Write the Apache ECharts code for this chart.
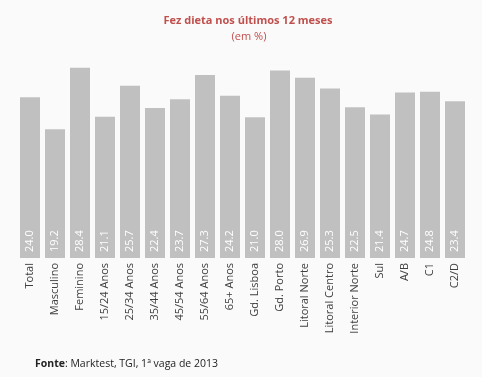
<!DOCTYPE html>
<html>
<head>
<meta charset="utf-8">
<script src="https://cdn.jsdelivr.net/npm/echarts@6/dist/echarts.min.js"></script>
<style>
  html, body { margin: 0; padding: 0; background: #fafafa; }
  #chart { width: 482px; height: 377px; }
</style>
</head>
<body>
<div id="chart"></div>
<script>
const categories = ['Total', 'Masculino', 'Feminino', '15/24 Anos', '25/34 Anos', '35/44 Anos',
  '45/54 Anos', '55/64 Anos', '65+ Anos', 'Gd. Lisboa', 'Gd. Porto', 'Litoral Norte',
  'Litoral Centro', 'Interior Norte', 'Sul', 'A/B', 'C1', 'C2/D'];
const values = [24.0, 19.2, 28.4, 21.1, 25.7, 22.4, 23.7, 27.3, 24.2, 21.0, 28.0, 26.9,
  25.3, 22.5, 21.4, 24.7, 24.8, 23.4];

const TITLE_COLOR = '#c0504d';
const BAR_COLOR = '#c0c0c0';
const LABEL_COLOR = '#404040';

const chart = echarts.init(document.getElementById('chart'));

chart.setOption({
  backgroundColor: '#fafafa',
  animation: false,
  title: [
    {
      text: 'Fez dieta nos últimos 12 meses',
      left: 243,
      top: 10,
      textAlign: 'center',
      textStyle: { color: TITLE_COLOR, fontSize: 11, fontWeight: 'bold', fontFamily: 'Open Sans' }
    },
    {
      text: '(em %)',
      left: 244,
      top: 26,
      textAlign: 'center',
      textStyle: { color: TITLE_COLOR, fontSize: 11, fontWeight: 'normal', fontFamily: 'Open Sans' }
    },
    {
      text: '{b|Fonte}: Marktest, TGI, 1ª vaga de 2013',
      left: 30,
      top: 354,
      textStyle: {
        color: '#222',
        fontSize: 10.5,
        fontFamily: 'Open Sans',
        fontWeight: 'normal',
        rich: { b: { fontWeight: 'bold', fontSize: 10.5, fontFamily: 'Open Sans', color: '#222' } }
      }
    }
  ],
  grid: { left: 17.5, right: 14.5, top: 57, bottom: 119 },
  xAxis: {
    type: 'category',
    data: categories,
    axisLine: { show: false },
    axisTick: { show: false },
    axisLabel: {
      rotate: 90,
      interval: 0,
      margin: 5,
      color: LABEL_COLOR,
      fontSize: 11,
      fontFamily: 'Open Sans'
    }
  },
  yAxis: {
    type: 'value',
    min: 0,
    max: 30,
    show: false
  },
  series: [
    {
      type: 'bar',
      data: values,
      barCategoryGap: '20%',
      itemStyle: { color: BAR_COLOR },
      label: {
        show: true,
        position: 'insideBottom',
        rotate: 90,
        align: 'left',
        verticalAlign: 'middle',
        distance: 6,
        color: '#ffffff',
        fontSize: 11,
        fontFamily: 'Open Sans',
        formatter: (p) => p.value.toFixed(1)
      }
    }
  ]
});
</script>
</body>
</html>
